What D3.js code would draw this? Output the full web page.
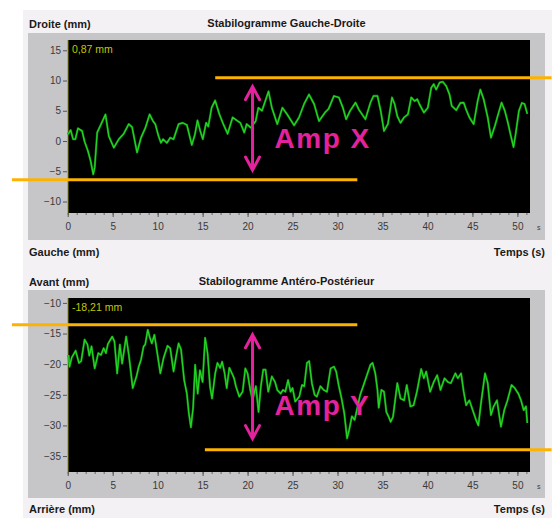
<!DOCTYPE html>
<html>
<head>
<meta charset="utf-8">
<script src="https://cdn.jsdelivr.net/npm/d3@7"></script>
<style>
  html, body { margin: 0; padding: 0; background: #ffffff; }
  svg { display: block; font-family: "Liberation Sans", Arial, sans-serif; }
</style>
</head>
<body>
<svg id="chart" width="552" height="518"></svg>
<script>
// Medio-lateral sway (mm) over time (s)
const timeGD = [0.03,0.33,0.6,0.85,1.14,1.6,1.88,2.25,2.55,2.84,3.0,3.28,3.72,4.2,4.57,5.13,5.68,6.23,6.79,7.16,7.71,8.15,8.64,9.11,9.48,9.74,10.1,10.37,10.6,11.03,11.4,11.77,12.33,12.8,13.25,13.8,14.15,14.43,14.73,15.02,15.39,15.63,16.0,16.39,16.87,17.3,17.78,18.34,18.9,19.2,19.63,19.9,20.37,20.9,21.2,21.6,22.33,22.7,23.3,23.87,24.4,25.17,25.72,26.28,26.83,27.4,27.94,28.6,29.0,29.6,30.15,30.6,30.96,31.4,32.0,32.37,33.1,33.66,34.0,34.44,34.8,35.17,35.6,36.06,36.35,36.65,37.0,37.4,37.83,38.2,38.57,38.87,39.1,39.6,40.04,40.42,40.7,40.97,41.34,41.7,42.08,42.45,42.7,43.2,43.66,44.03,44.3,44.66,45.14,45.58,45.88,46.25,46.7,47.06,47.5,47.8,48.24,48.6,48.9,49.28,49.57,49.8,50.17,50.5,50.8,51.1];
const valuesGD = [1.1,1.8,0.3,0.3,2.1,1.65,-0.1,-1.65,-3.3,-5.5,-4.4,1.4,2.8,4.4,0.8,-1.1,0.3,1.2,2.8,2.3,-1.9,0.55,2.2,4.4,3.3,2.8,0.8,-0.3,0.3,-0.3,0.55,0.3,2.8,3.0,2.65,-0.65,1.1,3.4,1.7,0.3,3.0,2.4,5.5,6.7,4.4,2.8,1.2,3.9,3.3,3.0,1.4,2.8,2.2,3.3,5.5,5.0,8.2,5.5,2.8,5.5,4.4,2.6,3.9,6.1,7.7,6.1,3.3,4.7,5.3,7.45,7.2,5.5,3.6,5.0,6.35,5.2,3.6,6.35,7.45,7.45,5.0,1.65,2.8,7.2,6.1,4.1,3.0,3.9,4.4,7.2,6.6,6.9,6.1,4.7,5.5,8.8,9.4,8.5,9.65,9.8,9.1,7.7,5.8,5.1,6.3,6.35,5.2,3.9,2.8,6.6,8.5,6.9,3.9,0.55,2.5,4.1,6.35,5.0,3.3,0.8,-1.0,1.1,5.0,6.3,6.1,4.5];

// Antero-posterior sway (mm) over time (s)
const timeAP = [0.1,0.2,0.45,0.88,1.25,1.5,1.88,2.2,2.4,2.65,3.0,3.4,3.7,4.0,4.25,4.47,4.95,5.2,5.5,5.8,6.05,6.5,6.8,7.23,7.65,7.9,8.15,8.44,8.62,8.9,9.1,9.35,9.64,9.93,10.3,10.66,11.1,11.4,11.77,12.06,12.33,12.6,12.95,13.25,13.47,13.7,13.95,14.17,14.45,14.7,15.0,15.28,15.55,15.83,16.05,16.4,16.65,16.95,17.17,17.45,17.68,17.97,18.26,18.5,18.7,19.08,19.45,19.75,20.0,20.3,20.55,20.92,21.22,21.48,21.74,22.0,22.3,22.7,23.05,23.3,23.67,23.94,24.2,24.5,24.78,25.0,25.3,25.75,26.05,26.3,26.6,26.85,27.15,27.45,27.7,28.1,28.45,28.83,29.23,29.6,29.85,30.15,30.45,30.75,31.06,31.3,31.6,31.9,32.15,32.52,32.9,33.27,33.66,33.9,34.2,34.44,34.58,34.88,35.17,35.43,35.69,35.91,36.17,36.65,37.0,37.4,37.7,38.1,38.46,38.83,39.3,39.6,39.86,40.3,40.7,41.08,41.45,41.9,42.26,42.6,43.1,43.37,43.74,44.03,44.3,44.66,45.03,45.4,45.66,45.95,46.4,46.7,47.06,47.36,47.73,48.17,48.54,48.9,49.35,49.7,50.1,50.4,50.7,50.95,51.1];
const valuesAP = [-18.5,-20.4,-18.9,-17.8,-19.8,-19.5,-16.0,-16.8,-18.6,-17.1,-20.7,-18.2,-18.5,-17.4,-18.2,-16.7,-15.5,-16.3,-21.5,-16.8,-19.9,-15.5,-18.5,-23.9,-22.0,-20.4,-19.3,-17.1,-16.8,-14.4,-15.5,-16.6,-15.2,-17.9,-21.5,-19.0,-17.0,-17.4,-21.2,-18.7,-16.6,-17.6,-22.6,-24.8,-28.0,-30.3,-27.0,-20.1,-24.8,-21.0,-22.9,-15.7,-18.2,-23.7,-25.6,-21.5,-19.8,-20.6,-19.6,-21.5,-23.9,-20.6,-21.5,-22.3,-23.6,-25.3,-24.5,-20.7,-21.5,-24.2,-25.9,-23.6,-27.8,-23.6,-20.9,-20.9,-24.5,-22.0,-22.9,-24.2,-24.8,-24.2,-24.5,-22.6,-24.5,-23.9,-26.1,-25.3,-23.4,-23.6,-19.8,-19.5,-23.1,-25.0,-25.3,-23.6,-24.2,-24.5,-20.7,-20.4,-21.2,-23.6,-25.6,-28.0,-32.1,-30.7,-28.5,-29.1,-27.5,-25.0,-23.4,-21.8,-20.1,-19.8,-21.5,-24.2,-27.1,-24.2,-24.5,-27.8,-28.6,-29.4,-28.6,-23.1,-25.6,-25.9,-23.4,-26.9,-26.7,-24.5,-20.8,-22.3,-21.2,-24.5,-22.9,-21.8,-24.2,-22.3,-22.9,-23.1,-21.5,-22.3,-21.5,-24.5,-26.7,-25.9,-27.5,-29.1,-30.0,-26.4,-21.5,-23.1,-28.3,-26.9,-25.9,-30.2,-27.5,-25.9,-23.4,-23.9,-24.8,-25.9,-27.5,-26.9,-29.6];

// Axis ticks
const timeTicks = [0, 5, 10, 15, 20, 25, 30, 35, 40, 45, 50];
const timeMinorTicks = d3.range(0, 52, 1);
const yTicksGD = [15, 10, 5, 0, -5, -10];
const yTicksAP = [-10, -15, -20, -25, -30, -35];

// Amplitude annotations (time span and level of the bounding lines, arrow span)
const boundsGD = [{ from: 16.4, to: 53.8, level: 10.45 }, { from: -6.2, to: 32.2, level: -6.4 }];
const boundsAP = [{ from: -6.2, to: 32.2, level: -13.55 }, { from: 15.25, to: 53.8, level: -33.95 }];
const arrowGD = { t: 20.55, top: 9.0, bottom: -4.8 };
const arrowAP = { t: 20.55, top: -15.2, bottom: -32.15 };

const svg = d3.select("#chart");

// light window background
svg.append("rect").attr("x", 23).attr("y", 10).attr("width", 529).attr("height", 508)
  .attr("fill", "#f4f1f4");

const panels = [
  {
    frame: [28, 33, 545, 240], plot: [67, 40, 530, 213],
    domainY: [-11.9, 16.7], yTicks: yTicksGD, t: timeGD, v: valuesGD,
    readout: "0,87 mm", title: "Stabilogramme Gauche-Droite",
    topLabel: "Droite (mm)", bottomLabel: "Gauche (mm)",
    bounds: boundsGD, arrow: arrowGD, ampText: "Amp X", ampPos: { t: 23.0, v: -1.2 },
    headY: 28, footY: 256
  },
  {
    frame: [28, 290, 545, 498], plot: [67, 298, 530, 472],
    domainY: [-37.6, -9.2], yTicks: yTicksAP, t: timeAP, v: valuesAP,
    readout: "-18,21 mm", title: "Stabilogramme Antéro-Postérieur",
    topLabel: "Avant (mm)", bottomLabel: "Arrière (mm)",
    bounds: boundsAP, arrow: arrowAP, ampText: "Amp Y", ampPos: { t: 23.0, v: -28.3 },
    headY: 286, footY: 513
  }
];

const ORANGE = "#fdb200";
const MAGENTA = "#e4229d";

panels.forEach(p => {
  const [fx0, fy0, fx1, fy1] = p.frame;
  const [px0, py0, px1, py1] = p.plot;
  const x = d3.scaleLinear().domain([0, 51.4]).range([px0 + 0.7, px1]);
  const y = d3.scaleLinear().domain(p.domainY).range([py1, py0]);
  const g = svg.append("g");

  // header / footer labels
  g.append("text").attr("x", 29).attr("y", p.headY).attr("font-size", 11).attr("font-weight", "bold")
    .attr("fill", "#1a1a1a").text(p.topLabel);
  g.append("text").attr("x", (fx0 + fx1) / 2).attr("y", p.headY - 1).attr("font-size", 11)
    .attr("font-weight", "bold").attr("text-anchor", "middle").attr("fill", "#1a1a1a").text(p.title);
  g.append("text").attr("x", 29).attr("y", p.footY).attr("font-size", 11).attr("font-weight", "bold")
    .attr("fill", "#1a1a1a").text(p.bottomLabel);
  g.append("text").attr("x", 545).attr("y", p.footY).attr("font-size", 11).attr("font-weight", "bold")
    .attr("text-anchor", "end").attr("fill", "#1a1a1a").text("Temps (s)");

  // gray frame and black plot area
  g.append("rect").attr("x", fx0).attr("y", fy0).attr("width", fx1 - fx0).attr("height", fy1 - fy0)
    .attr("fill", "#c6c5c7");
  g.append("rect").attr("x", px0).attr("y", py0).attr("width", px1 - px0).attr("height", py1 - py0)
    .attr("fill", "#000000");

  // y axis
  const ya = g.append("g").attr("transform", `translate(${px0},0)`)
    .call(d3.axisLeft(y).tickValues(p.yTicks).tickSize(4).tickPadding(2));
  ya.select(".domain").remove();
  ya.selectAll("line").attr("stroke", "#555");
  ya.selectAll("text").attr("font-size", 10).attr("fill", "#3a3a3a")
    .attr("font-family", "'Liberation Sans', Arial, sans-serif");

  // x axis: minor and major ticks
  const xm = g.append("g").attr("transform", `translate(0,${py1})`)
    .call(d3.axisBottom(x).tickValues(timeMinorTicks).tickSize(2).tickFormat(""));
  xm.select(".domain").remove();
  xm.selectAll("line").attr("stroke", "#666");
  const xa = g.append("g").attr("transform", `translate(0,${py1})`)
    .call(d3.axisBottom(x).tickValues(timeTicks).tickSize(4).tickPadding(6));
  xa.select(".domain").remove();
  xa.selectAll("line").attr("stroke", "#555");
  xa.selectAll("text").attr("font-size", 10).attr("fill", "#3a3a3a")
    .attr("font-family", "'Liberation Sans', Arial, sans-serif");
  g.append("text").attr("x", px1 + 7).attr("y", py1 + 17).attr("font-size", 7).attr("fill", "#3a3a3a").text("s");

  // cursor line and readout
  g.append("line").attr("x1", x(0)).attr("x2", x(0)).attr("y1", py0).attr("y2", py1)
    .attr("stroke", "#c8c400").attr("stroke-width", 1.3);
  g.append("text").attr("x", px0 + 5).attr("y", py0 + 13).attr("font-size", 10.5)
    .attr("fill", "#c8c400").text(p.readout);

  // signal trace: dark green under-stroke with a brighter core
  const pts = p.t.map((t, i) => [t, p.v[i]]);
  const line = d3.line().x(d => x(d[0])).y(d => y(d[1]));
  g.append("path").datum(pts)
    .attr("fill", "none").attr("stroke", "#0c8a0c").attr("stroke-width", 2.2)
    .attr("stroke-linejoin", "round").attr("d", line);
  g.append("path").datum(pts)
    .attr("fill", "none").attr("stroke", "#28d628").attr("stroke-width", 1.1)
    .attr("stroke-linejoin", "round").attr("d", line);

  // amplitude bounds
  g.selectAll(".bound").data(p.bounds).enter().append("line")
    .attr("x1", d => x(d.from)).attr("x2", d => x(d.to))
    .attr("y1", d => y(d.level)).attr("y2", d => y(d.level))
    .attr("stroke", ORANGE).attr("stroke-width", 3);

  // double arrow
  const ax = x(p.arrow.t), at = y(p.arrow.top), ab = y(p.arrow.bottom);
  const arr = g.append("g").attr("stroke", MAGENTA).attr("stroke-width", 3)
    .attr("stroke-linecap", "round").attr("fill", "none");
  arr.append("line").attr("x1", ax).attr("x2", ax).attr("y1", at + 1).attr("y2", ab - 1);
  arr.append("path").attr("d", `M${ax - 7},${at + 13}L${ax},${at}L${ax + 7},${at + 13}`);
  arr.append("path").attr("d", `M${ax - 7},${ab - 13}L${ax},${ab}L${ax + 7},${ab - 13}`);

  g.append("text").attr("x", x(p.ampPos.t)).attr("y", y(p.ampPos.v))
    .attr("font-size", 28).attr("font-weight", "bold").attr("letter-spacing", 1.5)
    .attr("fill", MAGENTA).text(p.ampText);
});
</script>
</body>
</html>
